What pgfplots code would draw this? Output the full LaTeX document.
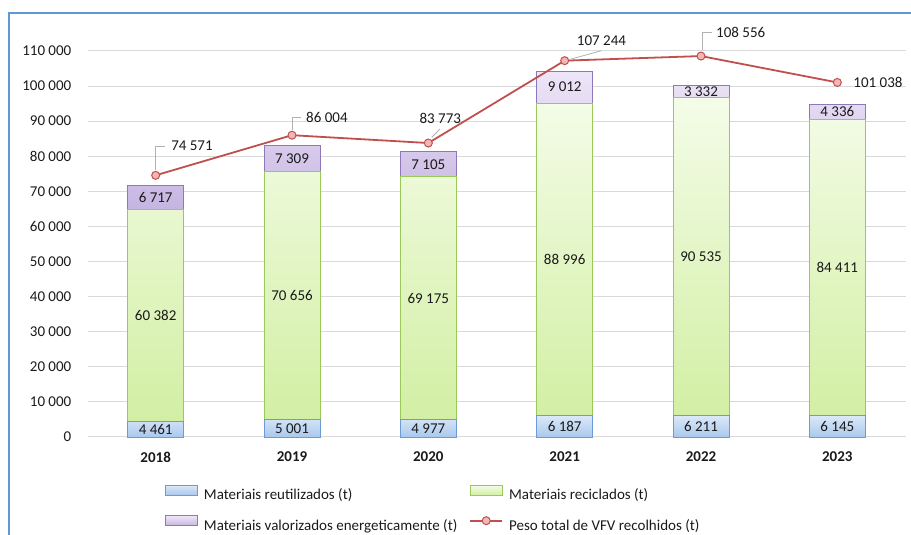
\documentclass[border=0pt]{standalone}
\usepackage{fontspec}
\setmainfont{Carlito}
\usepackage{pgfplots}
\pgfplotsset{compat=1.18}
\definecolor{frameblue}{HTML}{5B9BD5}
\definecolor{gridgray}{HTML}{D9D9D9}
\definecolor{bluedraw}{HTML}{6E9BD7}
\definecolor{bluetop}{HTML}{DDE9F8}
\definecolor{bluebot}{HTML}{A9C8EE}
\definecolor{greendraw}{HTML}{9BC85A}
\definecolor{greentop}{HTML}{F4FCE8}
\definecolor{greenbot}{HTML}{D2EFA3}
\definecolor{purpledraw}{HTML}{8E78B8}
\definecolor{purpletop}{HTML}{EEE6F8}
\definecolor{purplebot}{HTML}{C6B4E1}
\definecolor{linered}{HTML}{C0504D}
\definecolor{markfill}{HTML}{F4B6B5}
\definecolor{txt}{HTML}{1A1A1A}
\newcommand{\myfs}{\fontsize{15}{18}\selectfont}
\tikzset{lbl/.style={font=\myfs, text=txt, inner sep=0pt},
  leader/.style={draw=gray!60, line width=0.8pt}}
\begin{document}
\begin{tikzpicture}[x=1pt,y=1pt]
\useasboundingbox (0,0) rectangle (911,535);
\draw[frameblue, line width=2pt] (9,0) -- (9,521.5) -- (911,521.5);
\begin{axis}[
  at={(87.5pt,98pt)}, anchor=south west, scale only axis,
  width=818pt, height=386pt,
  xmin=-0.5, xmax=5.5, ymin=0, ymax=110000,
  ybar stacked, bar width=56pt,
  axis line style={draw=none},
  scaled y ticks=false,
  ytick={0,10000,20000,30000,40000,50000,60000,70000,80000,90000,100000,110000},
  yticklabels={0,10 000,20 000,30 000,40 000,50 000,60 000,70 000,80 000,90 000,100 000,110 000},
  xtick={0,1,2,3,4,5}, xticklabels={2018,2019,2020,2021,2022,2023},
  major tick length=0pt,
  ymajorgrids, grid style={gridgray, line width=1pt},
  yticklabel style={anchor=east, inner sep=0pt, xshift=-16pt, font=\myfs, text=txt},
  xticklabel style={anchor=center, inner sep=0pt, yshift=-20pt, font=\bfseries\myfs, text=txt},
  clip=false,
]
\addplot[draw=bluedraw, line width=0.8pt, top color=bluetop, bottom color=bluebot] coordinates {(0,4461) (1,5001) (2,4977) (3,6187) (4,6211) (5,6145)};
\addplot[draw=greendraw, line width=0.8pt, top color=greentop, bottom color=greenbot] coordinates {(0,60382) (1,70656) (2,69175) (3,88996) (4,90535) (5,84411)};
\addplot[draw=purpledraw, line width=0.8pt, top color=purpletop, bottom color=purplebot] coordinates {(0,6717) (1,7309) (2,7105) (3,9012) (4,3332) (5,4336)};
\end{axis}
\begin{axis}[
  at={(87.5pt,98pt)}, anchor=south west, scale only axis,
  width=818pt, height=386pt,
  xmin=-0.5, xmax=5.5, ymin=0, ymax=110000,
  hide axis, clip=false,
  legend columns=2,
  legend style={at={(0.0947,-0.123)}, anchor=north west, draw=none, fill=none,
    inner sep=0pt, font=\myfs, text=txt, nodes={inner sep=0pt},
    row sep=14pt,
    /tikz/every odd column/.append style={column sep=6pt},
    /tikz/every even column/.append style={column sep=12pt}},
  legend cell align=left,
]
\addlegendimage{legend image code/.code={\draw[draw=bluedraw, line width=0.8pt, top color=bluetop, bottom color=bluebot] (0pt,0pt) rectangle (32pt,10pt);}}
\addlegendentry{Materiais reutilizados (t)}
\addlegendimage{legend image code/.code={\draw[draw=greendraw, line width=0.8pt, top color=greentop, bottom color=greenbot] (0pt,0pt) rectangle (32pt,10pt);}}
\addlegendentry{Materiais reciclados (t)}
\addlegendimage{legend image code/.code={\draw[draw=purpledraw, line width=0.8pt, top color=purpletop, bottom color=purplebot] (0pt,0pt) rectangle (32pt,10pt);}}
\addlegendentry{Materiais valorizados energeticamente (t)}
\addplot[linered, line width=1.8pt, mark=*, mark size=4pt, mark options={fill=markfill, draw=linered, line width=1pt},
  legend image code/.code={\draw[linered, line width=1.8pt] (0pt,5pt) -- (32pt,5pt); \draw[fill=markfill, draw=linered, line width=1pt] (16pt,5pt) circle (4pt);}]
  coordinates {(0,74571) (1,86004) (2,83773) (3,107244) (4,108556) (5,101038)};
\addlegendentry{Peso total de VFV recolhidos (t)}
\node[lbl] at (axis cs:0,2230.5) {4 461};
\node[lbl] at (axis cs:1,2500.5) {5 001};
\node[lbl] at (axis cs:2,2488.5) {4 977};
\node[lbl] at (axis cs:3,3093.5) {6 187};
\node[lbl] at (axis cs:4,3105.5) {6 211};
\node[lbl] at (axis cs:5,3072.5) {6 145};
\node[lbl] at (axis cs:0,34652) {60 382};
\node[lbl] at (axis cs:1,40329) {70 656};
\node[lbl] at (axis cs:2,39564.5) {69 175};
\node[lbl] at (axis cs:3,50685) {88 996};
\node[lbl] at (axis cs:4,51478.5) {90 535};
\node[lbl] at (axis cs:5,48350.5) {84 411};
\node[lbl] at (axis cs:0,68201.5) {6 717};
\node[lbl] at (axis cs:1,79311.5) {7 309};
\node[lbl] at (axis cs:2,77704.5) {7 105};
\node[lbl] at (axis cs:3,99689) {9 012};
\node[lbl] at (axis cs:4,98412) {3 332};
\node[lbl] at (axis cs:5,92724) {4 336};
\draw[leader] (axis cs:0,76200) -- (axis cs:0,82927) -- (axis cs:0.066,82927);
\node[lbl, anchor=west] at (axis cs:0.113,82927) {74 571};
\draw[leader] (axis cs:1,87600) -- (axis cs:1,91190) -- (axis cs:1.066,91190);
\node[lbl, anchor=west] at (axis cs:1.103,91190) {86 004};
\draw[leader] (axis cs:2.025,85410) -- (axis cs:2.085,87770);
\node[lbl] at (axis cs:2.088,90905) {83 773};
\draw[leader] (axis cs:3.04,107630) -- (axis cs:3.27,110085);
\node[lbl] at (axis cs:3.27,112935) {107 244};
\draw[leader] (axis cs:4.008,110200) -- (axis cs:4.008,115325) -- (axis cs:4.08,115325);
\node[lbl, anchor=west] at (axis cs:4.11,115325) {108 556};
\node[lbl, anchor=west] at (axis cs:5.117,101038) {101 038};
\end{axis}
\end{tikzpicture}
\end{document}
